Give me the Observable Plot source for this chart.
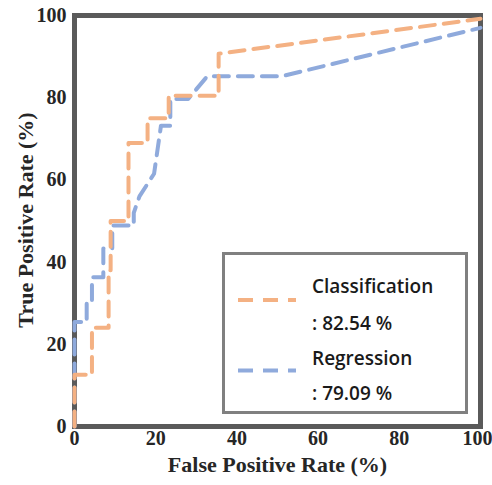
<!DOCTYPE html>
<html><head><meta charset="utf-8">
<script src="https://cdn.jsdelivr.net/npm/d3@7"></script>
<script src="https://cdn.jsdelivr.net/npm/@observablehq/plot@0.6"></script>
<style>
body{margin:0;background:#fff}
#wrap{position:relative;width:492px;height:485px;overflow:hidden}
#legend{position:absolute;left:222px;top:252px}
</style>
</head><body>
<div id="wrap"></div>
<script>
const ticks = [0, 20, 40, 60, 80, 100];
const xTitle = "False Positive Rate (%)";
const yTitle = "True Positive Rate (%)";
const seriesNames = ["Classification", "Regression"];
const aucValues = ["82.54", "79.09"];
const seriesColors = ["#F4B183", "#8FAADC"];

const classFPR = [0, 0, 4.3, 4.3, 8.4, 8.4, 8.9, 8.9, 13.3, 13.3, 18, 18, 23.2, 23.2, 35.5, 35.5, 100];
const classTPR = [0, 12.6, 12.6, 24, 24, 38, 38, 50, 50, 69, 69, 75, 75, 80.5, 80.5, 90.7, 99.2];

const regFPR = [0, 0, 3, 3, 4.3, 4.3, 7.1, 7.1, 9.3, 9.3, 14.6, 14.6, 16, 19.6, 21.3, 23.6, 23.6, 28, 32.7, 51, 100];
const regTPR = [0, 25.4, 25.4, 30.6, 30.6, 36.3, 36.3, 43.3, 43.3, 48.9, 48.9, 52, 56, 61.5, 73.2, 73.2, 79.7, 79.7, 85.2, 85.2, 97];

const cls = classFPR.map((x, i) => ({x, y: classTPR[i]}));
const reg = regFPR.map((x, i) => ({x, y: regTPR[i]}));
const lastTick = ticks[ticks.length - 1];

const chart = Plot.plot({
  width: 492, height: 485,
  marginLeft: 74, marginRight: 12, marginTop: 15, marginBottom: 59,
  x: {domain: [0, 100]},
  y: {domain: [0, 100]},
  style: {fontFamily: "'Liberation Serif', 'Times New Roman', serif", fontWeight: "bold", fontSize: "20px", color: "#262626", background: "#fff"},
  marks: [
    Plot.frame({stroke: "#5a5a5a", strokeWidth: 5}),
    Plot.axisX({ticks: ticks.filter(t => t !== lastTick), tickSize: 0, tickPadding: 4, fontSize: 20, label: null}),
    Plot.axisX({ticks: [lastTick], tickSize: 0, tickPadding: 4, fontSize: 20, label: null, dx: -3}),
    Plot.axisY({ticks, tickSize: 0, tickPadding: 8, fontSize: 20, label: null}),
    Plot.text([xTitle], {text: d => d, frameAnchor: "bottom", textAnchor: "middle", dy: 45, fontSize: 22, fontWeight: "bold", fill: "#262626"}),
    Plot.text([yTitle], {text: d => d, frameAnchor: "left", textAnchor: "middle", dx: -49, dy: -1, rotate: -90, fontSize: 22, fontWeight: "bold", fill: "#262626"}),
    Plot.line(reg, {x: "x", y: "y", stroke: seriesColors[1], strokeWidth: 4, strokeDasharray: "15,9"}),
    Plot.line(cls, {x: "x", y: "y", stroke: seriesColors[0], strokeWidth: 4, strokeDasharray: "15,9"})
  ]
});
const wrap = document.getElementById("wrap");
wrap.appendChild(chart);

// legend overlay
const lg = d3.select(wrap).append("svg").attr("id", "legend").attr("width", 246).attr("height", 162);
lg.append("rect").attr("x", 1.5).attr("y", 1.5).attr("width", 243).attr("height", 159)
  .attr("fill", "#fff").attr("stroke", "#808080").attr("stroke-width", 3);
const lineY = [48, 118.5];
const textY = [[41, 78], [113, 148]];
seriesNames.forEach((name, i) => {
  lg.append("line").attr("x1", 16).attr("x2", 74).attr("y1", lineY[i]).attr("y2", lineY[i])
    .attr("stroke", seriesColors[i]).attr("stroke-width", 4).attr("stroke-dasharray", "15,10");
  lg.append("text").attr("x", 90).attr("y", textY[i][0]).text(name)
    .attr("font-family", "'Open Sans', sans-serif").attr("font-weight", 600).attr("font-size", 19).attr("fill", "#1a1a1a");
  lg.append("text").attr("x", 90).attr("y", textY[i][1]).text(": " + aucValues[i] + " %")
    .attr("font-family", "'Open Sans', sans-serif").attr("font-weight", 600).attr("font-size", 19).attr("fill", "#1a1a1a");
});
</script>
</body></html>
